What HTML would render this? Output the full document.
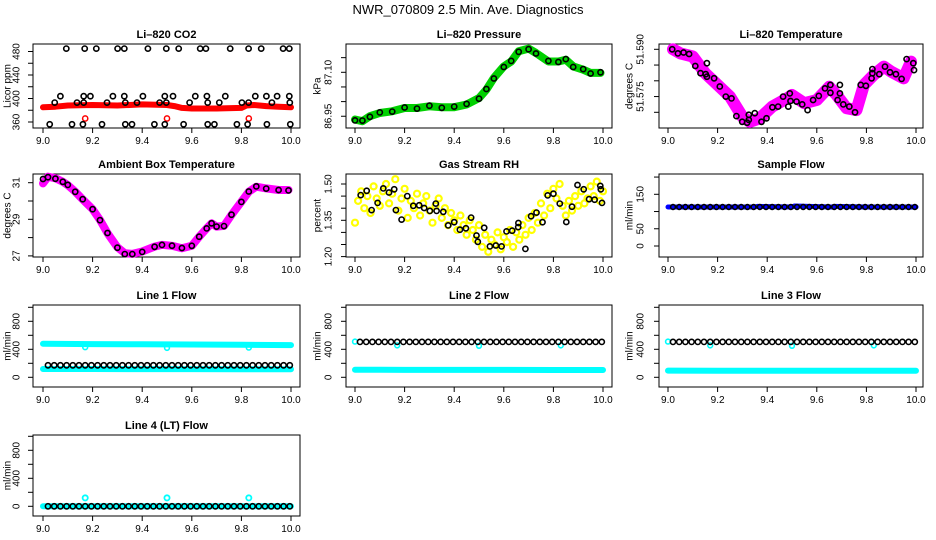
<!DOCTYPE html>
<html><head><meta charset="utf-8"><style>
html,body{margin:0;padding:0;background:#fff;}
svg{display:block;font-family:"Liberation Sans",sans-serif;}
</style></head><body>
<svg id="chart" width="936" height="540" viewBox="0 0 936 540" xmlns="http://www.w3.org/2000/svg">
<rect width="936" height="540" fill="#fff"/>
<text x="468" y="14" text-anchor="middle" font-size="13">NWR_070809  2.5 Min. Ave. Diagnostics</text>
</svg>
<script>
// ---- data ----
const xTicks = [9.0, 9.2, 9.4, 9.6, 9.8, 10.0];
const xTickLabels = ["9.0", "9.2", "9.4", "9.6", "9.8", "10.0"];
const flowTimes = [9.02,9.045,9.07,9.095,9.12,9.145,9.17,9.195,9.22,9.245,9.27,9.295,9.32,9.345,9.37,9.395,9.42,9.445,9.47,9.495,9.52,9.545,9.57,9.595,9.62,9.645,9.67,9.695,9.72,9.745,9.77,9.795,9.82,9.845,9.87,9.895,9.92,9.945,9.97,9.995];

// CO2
const co2BandTimes = [9.0,9.05,9.1,9.2,9.3,9.4,9.5,9.53,9.56,9.6,9.7,9.8,9.82,9.85,9.9,9.95,10.0];
const co2BandValues = [385,386,388,389,388,390,389,387,384,383,383,384,388,389,387,386,385];
const co2RedOutTimes = [9.17, 9.50, 9.83];
const co2RedOutValues = [366, 366, 366];
const co2BlackTimes = [9.094,9.168,9.215,9.301,9.328,9.423,9.497,9.547,9.634,9.657,9.755,9.829,9.880,9.968,9.993,
 9.027,9.117,9.161,9.238,9.332,9.359,9.449,9.491,9.567,9.664,9.691,9.782,9.825,9.903,9.997,
 9.070,9.164,9.191,9.282,9.328,9.403,9.491,9.524,9.614,9.661,9.735,9.856,9.901,9.944,9.993,
 9.047,9.137,9.164,9.258,9.332,9.379,9.470,9.497,9.591,9.664,9.711,9.802,9.829,9.923,9.995];
const co2BlackValues = [485,485,485,485,485,485,485,485,485,485,485,485,485,485,485,
 356,356,356,356,356,356,356,356,356,356,356,356,356,356,356,
 404,404,404,404,404,404,404,404,404,404,404,404,404,404,404,
 393,393,393,393,393,393,393,393,393,393,393,393,393,393,393];

// Pressure
const presTimes = [9.0,9.03,9.06,9.1,9.15,9.2,9.25,9.3,9.35,9.4,9.45,9.5,9.53,9.56,9.6,9.63,9.66,9.7,9.73,9.78,9.82,9.85,9.88,9.92,9.95,9.99];
const presBandValues = [86.939,86.933,86.950,86.961,86.967,86.978,86.978,86.984,86.981,86.981,86.990,87.012,87.041,87.081,87.120,87.137,87.172,87.181,87.166,87.137,87.137,87.143,87.120,87.109,87.098,87.098];
const presBlackValues = [86.936,86.935,86.948,86.963,86.966,86.980,86.976,86.986,86.979,86.983,86.992,87.010,87.043,87.079,87.118,87.139,87.170,87.179,87.164,87.139,87.135,87.145,87.118,87.111,87.096,87.100];

// Li-820 temperature
const tempBandTimes = [9.02,9.05,9.1,9.15,9.2,9.25,9.3,9.33,9.37,9.42,9.48,9.5,9.55,9.6,9.65,9.68,9.72,9.76,9.79,9.83,9.87,9.9,9.95,9.98];
const tempBandValues = [51.5900,51.5887,51.5877,51.5824,51.5787,51.5750,51.5686,51.5670,51.5681,51.5718,51.5744,51.5755,51.5729,51.5739,51.5781,51.5755,51.5713,51.5707,51.5787,51.5819,51.5845,51.5829,51.5808,51.5861];
const tempBlackTimes = [9.017,9.040,9.063,9.085,9.110,9.131,9.152,9.157,9.157,9.186,9.209,9.233,9.256,9.276,9.299,9.319,9.326,9.326,9.350,9.377,9.397,9.421,9.444,9.464,9.485,9.491,9.494,9.518,9.541,9.563,9.585,9.608,9.633,9.655,9.655,9.693,9.693,9.684,9.707,9.731,9.754,9.777,9.798,9.821,9.824,9.824,9.852,9.875,9.895,9.919,9.942,9.962,9.989,9.992];
const tempBlackValues = [51.5900,51.5887,51.5890,51.5885,51.5847,51.5824,51.5821,51.5856,51.5813,51.5808,51.5782,51.5750,51.5744,51.5688,51.5670,51.5667,51.5676,51.5692,51.5697,51.5670,51.5681,51.5716,51.5718,51.5750,51.5718,51.5760,51.5736,51.5734,51.5725,51.5707,51.5739,51.5752,51.5776,51.5787,51.5762,51.5787,51.5760,51.5739,51.5725,51.5718,51.5700,51.5787,51.5784,51.5808,51.5837,51.5824,51.5821,51.5845,51.5827,51.5821,51.5806,51.5869,51.5856,51.5834];

// Ambient box temperature
const ambTimes = [9.0,9.02,9.05,9.08,9.1,9.13,9.16,9.2,9.23,9.26,9.3,9.33,9.36,9.4,9.45,9.48,9.52,9.56,9.6,9.63,9.66,9.68,9.7,9.73,9.76,9.8,9.83,9.86,9.9,9.95,9.99];
const ambBandValues = [30.96,31.33,31.24,31.05,30.87,30.51,30.09,29.55,28.96,28.24,27.47,27.15,27.11,27.24,27.51,27.60,27.55,27.42,27.55,28.05,28.51,28.78,28.60,28.64,29.24,29.96,30.51,30.78,30.69,30.60,30.60];
const ambBlackValues = [31.20,31.30,31.22,31.05,30.88,30.50,30.10,29.55,28.95,28.25,27.45,27.10,27.10,27.22,27.50,27.60,27.56,27.43,27.55,28.05,28.50,28.78,28.60,28.63,29.25,29.95,30.52,30.80,30.68,30.60,30.58];

// Gas stream RH
const rhYellowStart = 9.0;
const rhYellowStep = 0.0125;
const rhYellowValues = [1.34,1.43,1.47,1.40,1.45,1.38,1.49,1.44,
 1.41,1.47,1.50,1.42, 1.46,1.52,1.39,1.44, 1.48,1.36,1.43,1.40, 1.46,1.37,1.42,1.45,
 1.39,1.34,1.41,1.44, 1.36,1.40,1.33,1.38, 1.35,1.31,1.37,1.33, 1.29,1.35,1.31,1.27,
 1.33,1.24,1.29,1.22, 1.27,1.25,1.30,1.23, 1.28,1.26,1.31,1.24, 1.30,1.27,1.33,1.29,
 1.36,1.31,1.38,1.34, 1.42,1.37,1.46,1.40, 1.48,1.44,1.50,1.41, 1.37,1.43,1.39,1.45,
 1.41,1.47,1.42,1.44, 1.49,1.45,1.51,1.43, 1.47];
const rhBlackTimes = [9.023,9.047,9.067,9.091,9.114,9.137,9.158,9.165,9.188,9.211,9.235,9.259,9.279,9.302,9.326,9.329,9.356,9.376,9.400,9.423,9.447,9.468,9.490,9.495,9.521,9.544,9.568,9.591,9.611,9.634,9.658,9.659,9.687,9.710,9.732,9.756,9.777,9.800,9.826,9.852,9.875,9.897,9.922,9.944,9.966,9.989,9.991,9.996];
const rhBlackValues = [1.454,1.472,1.392,1.422,1.482,1.465,1.478,1.392,1.353,1.450,1.410,1.412,1.401,1.389,1.419,1.389,1.385,1.329,1.342,1.311,1.317,1.361,1.287,1.261,1.319,1.242,1.246,1.242,1.304,1.307,1.322,1.339,1.232,1.367,1.382,1.342,1.453,1.460,1.419,1.343,1.406,1.496,1.478,1.437,1.435,1.492,1.478,1.422];

// Sample flow
const sampleBandTimes = [9.0,9.2,9.35,9.36,9.5,9.51,9.66,9.67,9.8,10.0];
const sampleBandValues = [113,113,113,115,113,116,113,115,113,113];
const sampleBlackValues = [113,113,113,113,113,113,113,113,113,113,113,113,113,113,113,113,113,113,113,113,113,113,113,113,113,113,113,113,113,113,113,113,113,113,113,113,113,113,113,113];

// Line flows
const bandTimes = [9.0,9.2,9.4,9.6,9.8,10.0];
const line1UpperValues = [478,474,471,468,464,460];
const line1LowerValues = [118,118,117,117,116,116];
const line1BlackValues = [171,171,171,171,171,171,171,171,171,171,171,171,171,171,171,171,171,171,171,171,171,171,171,171,171,171,171,171,171,171,171,171,171,171,171,171,171,171,171,171];
const dipTimes = [9.17, 9.50, 9.83];
const line1DipValues = [430, 420, 425];
const line2LowerValues = [108,106,105,105,104,104];
const line2BlackValues = [505,505,505,505,505,505,505,505,505,505,505,505,505,505,505,505,505,505,505,505,505,505,505,505,505,505,505,505,505,505,505,505,505,505,505,505,505,505,505,505];
const line2CyanTimes = [9.0, 9.17, 9.50, 9.83];
const line2CyanValues = [510, 455, 450, 455];
const line3LowerValues = [96,95,94,94,93,93];
const line3BlackValues = [505,505,505,505,505,505,505,505,505,505,505,505,505,505,505,505,505,505,505,505,505,505,505,505,505,505,505,505,505,505,505,505,505,505,505,505,505,505,505,505];
const line3CyanValues = [510, 455, 450, 455];
const line4BandValues = [2,2,2,2,2,2];
const line4BlackValues = [0,0,0,0,0,0,0,0,0,0,0,0,0,0,0,0,0,0,0,0,0,0,0,0,0,0,0,0,0,0,0,0,0,0,0,0,0,0,0,0];
const line4OutValues = [120, 120, 120];

// ---- geometry ----
const NS = "http://www.w3.org/2000/svg";
const svg = document.getElementById("chart");
const cols = [
  {bx0:33, bx1:300, x9:43, x10:291, tl:17, tt:8},
  {bx0:346, bx1:612, x9:355, x10:603, tl:329, tt:318},
  {bx0:659, bx1:923, x9:668, x10:916, tl:641, tt:630}
];
const rows = [{top:44, bot:128},{top:174, bot:257},{top:305, bot:387},{top:435, bot:516}];

function mk(tag, attrs, parent) {
  const e = document.createElementNS(NS, tag);
  for (const k in attrs) e.setAttribute(k, attrs[k]);
  (parent || svg).appendChild(e);
  return e;
}

function makePanel(name, col, row, title, ytitle, vRef, yRef, ppu, yTicks, yLabels) {
  const c = cols[col], r = rows[row];
  const g = mk("g", {});
  
  
  const p = {
    g: g,
    fx: v => c.x9 + (v - 9) * (c.x10 - c.x9),
    fy: v => yRef - (v - vRef) * ppu
  };
  const box = mk("rect", {x:c.bx0, y:r.top, width:c.bx1-c.bx0, height:r.bot-r.top, fill:"none", stroke:"#000", "stroke-width":1}, g);
  
  
  const t = mk("text", {x:(c.bx0+c.bx1)/2, y:r.top-6, "text-anchor":"middle", "font-size":11, "font-weight":"bold"}, g);
  t.textContent = title;
  
  
  const yt = mk("text", {x:c.tt, y:(r.top+r.bot)/2, "text-anchor":"middle", "font-size":10, transform:`rotate(-90 ${c.tt} ${(r.top+r.bot)/2})`, "dominant-baseline":"middle"}, g);
  yt.textContent = ytitle;
  
  
  const xa = mk("g", {}, g);
  
  
  xTicks.forEach((v, i) => {
    const x = p.fx(v);
    mk("line", {x1:x, x2:x, y1:r.bot, y2:r.bot+5, stroke:"#000"}, xa);
    const lb = mk("text", {x:x, y:r.bot+16, "text-anchor":"middle", "font-size":10}, xa);
    lb.textContent = xTickLabels[i];
    
    
  });
  const ya = mk("g", {}, g);
  
  
  yTicks.forEach((v, i) => {
    const y = p.fy(v);
    mk("line", {x1:c.bx0-5, x2:c.bx0, y1:y, y2:y, stroke:"#000"}, ya);
    if (yLabels[i]) {
      const lb = mk("text", {x:c.tl, y:y, "text-anchor":"middle", "font-size":10, "dominant-baseline":"middle", transform:`rotate(-90 ${c.tl} ${y})`}, ya);
      lb.textContent = yLabels[i];
      
      
    }
  });
  return p;
}

function band(p, name, xs, vs, color, w) {
  const pts = xs.map((x, i) => p.fx(x).toFixed(1) + "," + p.fy(vs[i]).toFixed(1)).join(" ");
  const pl = mk("polyline", {points:pts, fill:"none", stroke:color, "stroke-width":w, "stroke-linecap":"round", "stroke-linejoin":"round"}, p.g);
  
  
}
function dots(p, name, xs, vs, color, r, sw) {
  const gg = mk("g", {}, p.g);
  
  
  xs.forEach((x, i) => {
    const ci = mk("circle", {cx:p.fx(x).toFixed(1), cy:p.fy(vs[i]).toFixed(1), r:r, fill:"none", stroke:color, "stroke-width":sw}, gg);
    
    
  });
}

// CO2
let p = makePanel("co2", 0, 0, "Li\u2013820 CO2", "Licor ppm", 360, 122, 0.5875,
  [360,380,400,420,440,460,480], ["360","","400","","440","","480"]);
band(p, "co2-red-band", co2BandTimes, co2BandValues, "#ff0000", 6);
dots(p, "co2-red-outliers", co2RedOutTimes, co2RedOutValues, "#ff0000", 2.6, 1.5);
dots(p, "co2-black-points", co2BlackTimes, co2BlackValues, "#000", 2.6, 1.6);

// Pressure
p = makePanel("pressure", 1, 0, "Li\u2013820 Pressure", "kPa", 87.10, 72.3, 293,
  [86.95,87.00,87.05,87.10,87.15], ["86.95","","","87.10",""]);
band(p, "pressure-green-band", presTimes, presBandValues, "#00d000", 8);
dots(p, "pressure-black-points", presTimes, presBlackValues, "#000", 2.6, 1.6);

// Li-820 temperature
p = makePanel("li820-temperature", 2, 0, "Li\u2013820 Temperature", "degrees C", 51.590, 49.3, 3150,
  [51.570,51.575,51.580,51.585,51.590], ["","51.575","","","51.590"]);
band(p, "temperature-magenta-band", tempBandTimes, tempBandValues, "#ff00ff", 12);
dots(p, "temperature-black-points", tempBlackTimes, tempBlackValues, "#000", 2.6, 1.6);

// Ambient
p = makePanel("ambient-temperature", 0, 1, "Ambient Box Temperature", "degrees C", 31, 182.7, 18.3,
  [27,28,29,30,31], ["27","","29","","31"]);
band(p, "ambient-magenta-band", ambTimes, ambBandValues, "#ff00ff", 8);
dots(p, "ambient-black-points", ambTimes, ambBlackValues, "#000", 2.6, 1.6);

// RH
p = makePanel("gas-stream-rh", 1, 1, "Gas Stream RH", "percent", 1.50, 184, 242,
  [1.20,1.25,1.30,1.35,1.40,1.45,1.50], ["1.20","","","1.35","","","1.50"]);
const rhYellowTimes = rhYellowValues.map((v, i) => rhYellowStart + i * rhYellowStep);
dots(p, "rh-yellow-points", rhYellowTimes, rhYellowValues, "#ffff00", 3, 2.2);
dots(p, "rh-black-points", rhBlackTimes, rhBlackValues, "#000", 2.6, 1.6);

// Sample flow
p = makePanel("sample-flow", 2, 1, "Sample Flow", "ml/min", 0, 246, 0.3447,
  [0,50,100,150,200], ["0","50","","150",""]);
band(p, "sample-flow-blue-band", sampleBandTimes, sampleBandValues, "#0000ff", 5);
dots(p, "sample-flow-black-points", flowTimes, sampleBlackValues, "#000", 2.4, 1.6);

// Line 1
const flowTicks = [0,200,400,600,800,1000];
const flowLabels = ["0","","400","","800",""];
p = makePanel("line1-flow", 0, 2, "Line 1 Flow", "ml/min", 0, 377.3, 0.07, flowTicks, flowLabels);
band(p, "line1-cyan-upper", bandTimes, line1UpperValues, "#00ffff", 6);
band(p, "line1-cyan-lower", bandTimes, line1LowerValues, "#00ffff", 6);
dots(p, "line1-cyan-dips", dipTimes, line1DipValues, "#00ffff", 2.4, 1.6);
dots(p, "line1-black-points", flowTimes, line1BlackValues, "#000", 2.6, 1.6);

// Line 2
p = makePanel("line2-flow", 1, 2, "Line 2 Flow", "ml/min", 0, 377.3, 0.07, flowTicks, flowLabels);
band(p, "line2-cyan-lower", bandTimes, line2LowerValues, "#00ffff", 6);
dots(p, "line2-cyan-points", line2CyanTimes, line2CyanValues, "#00ffff", 2.4, 1.6);
dots(p, "line2-black-points", flowTimes, line2BlackValues, "#000", 2.6, 1.6);

// Line 3
p = makePanel("line3-flow", 2, 2, "Line 3 Flow", "ml/min", 0, 377.3, 0.07, flowTicks, flowLabels);
band(p, "line3-cyan-lower", bandTimes, line3LowerValues, "#00ffff", 6);
dots(p, "line3-cyan-points", line2CyanTimes, line3CyanValues, "#00ffff", 2.4, 1.6);
dots(p, "line3-black-points", flowTimes, line3BlackValues, "#000", 2.6, 1.6);

// Line 4
p = makePanel("line4-flow", 0, 3, "Line 4 (LT) Flow", "ml/min", 0, 506.3, 0.07, flowTicks, flowLabels);
band(p, "line4-cyan-band", bandTimes, line4BandValues, "#00ffff", 6);
dots(p, "line4-cyan-outliers", dipTimes, line4OutValues, "#00ffff", 2.6, 1.8);
dots(p, "line4-black-points", flowTimes, line4BlackValues, "#000", 2.6, 1.6);
</script>
</body></html>
